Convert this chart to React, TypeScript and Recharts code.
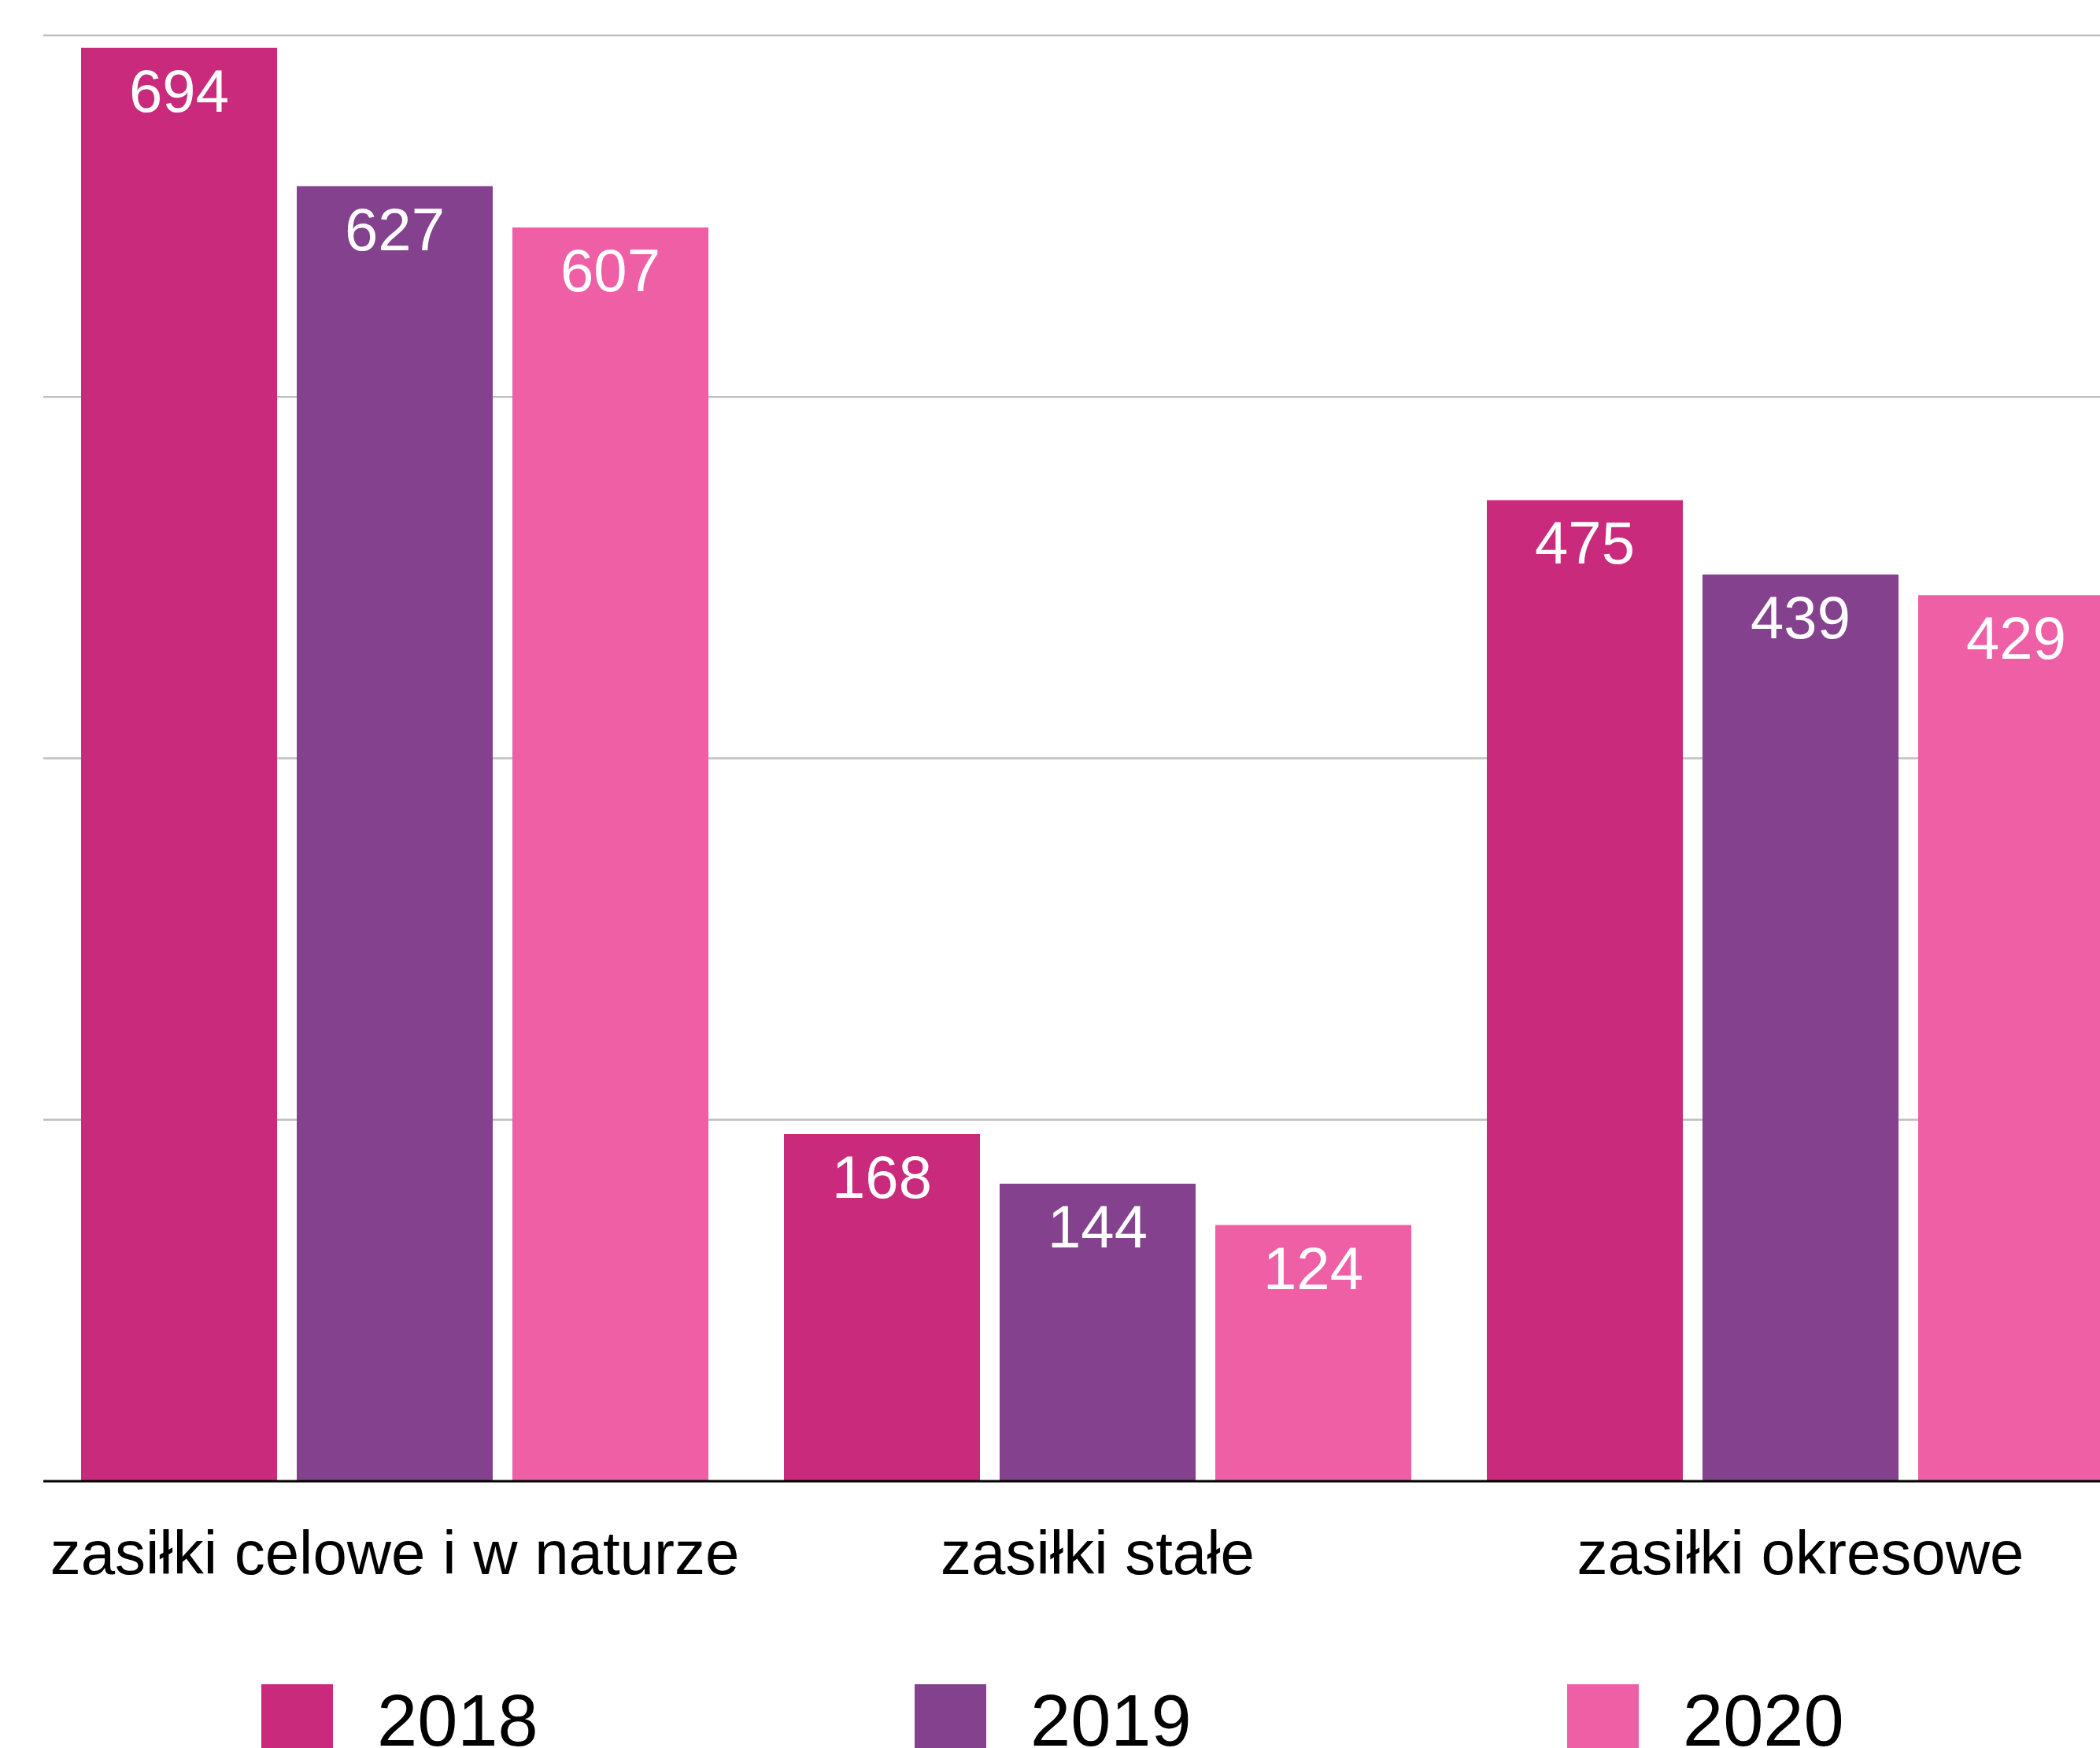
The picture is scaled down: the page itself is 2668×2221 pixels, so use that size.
import { BarChart, Bar, XAxis, YAxis, CartesianGrid, Legend, LabelList } from 'recharts';

const categories = ['zasiłki celowe i w naturze', 'zasiłki stałe', 'zasiłki okresowe'];
const years = ['2018', '2019', '2020'];
const values2018 = [694, 168, 475];
const values2019 = [627, 144, 439];
const values2020 = [607, 124, 429];
const yTicks = [0, 175, 350, 525, 700];

const colors = ['#CA2A7B', '#84418E', '#EE5FA6'];
const legendLeft = [332, 1162, 1991];
const font = '"Liberation Sans", Arial, Helvetica, sans-serif';

const data = categories.map((name, i) => ({
  name,
  '2018': values2018[i],
  '2019': values2019[i],
  '2020': values2020[i],
}));

function YearLegend() {
  return (
    <div style={{ position: 'relative', width: 2668, height: 100, fontFamily: font }}>
      {years.map((y, i) => (
        <div key={y} style={{ position: 'absolute', left: legendLeft[i], top: 0, display: 'flex' }}>
          <div style={{ width: 91, height: 91, background: colors[i] }} />
          <div style={{ marginLeft: 56, fontSize: 92, lineHeight: '92px', color: '#000' }}>{y}</div>
        </div>
      ))}
    </div>
  );
}

export default function App() {
  return (
    <div
      style={{
        position: 'absolute',
        left: 0,
        top: 0,
        width: 2668,
        height: 2221,
        overflow: 'hidden',
        background: '#fff',
        fontFamily: font,
      }}
    >
      <BarChart
        width={2760}
        height={2300}
        data={data}
        margin={{ top: 45, right: 26, left: 55, bottom: 0 }}
        barCategoryGap={48}
        barGap={25}
      >
        <CartesianGrid vertical={false} stroke="#bfbfbf" strokeWidth={2.5} />
        <XAxis
          dataKey="name"
          height={418}
          tickLine={false}
          tickSize={0}
          tickMargin={63}
          axisLine={{ stroke: '#000', strokeWidth: 3 }}
          tick={{ fill: '#000', fontSize: 78, fontFamily: font }}
          interval={0}
        />
        <YAxis hide domain={[0, 700]} ticks={yTicks} />
        <Legend
          layout="horizontal"
          verticalAlign="middle"
          align="center"
          wrapperStyle={{ top: 2140, left: 0, width: 2668 }}
          content={() => <YearLegend />}
        />
        {years.map((y, i) => (
          <Bar key={y} dataKey={y} fill={colors[i]} isAnimationActive={false}>
            <LabelList
              dataKey={y}
              position="insideTop"
              offset={27}
              fill="#fff"
              fontSize={76}
              fontFamily={font}
            />
          </Bar>
        ))}
      </BarChart>
    </div>
  );
}
